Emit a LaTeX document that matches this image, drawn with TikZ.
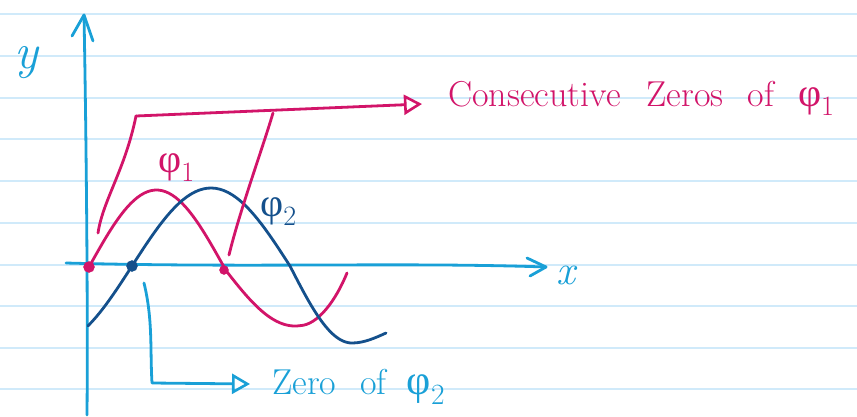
\documentclass[tikz,border=0pt]{standalone}
\usepackage{fontspec}
\newfontfamily\grk{Liberation Serif}
\usetikzlibrary{arrows.meta}
\definecolor{rule}{RGB}{208,234,250}
\definecolor{axis}{RGB}{25,160,215}
\definecolor{pinkc}{RGB}{210,20,105}
\definecolor{navy}{RGB}{20,80,140}
\newcommand{\phisub}[1]{{\grk φ}\textsubscript{#1}}
\tikzset{
  ruling/.style={rule, line width=1.6pt},
  hand/.style={line width=2.8pt, line cap=round, line join=round},
  opentip/.style={-{Triangle[open, length=18pt, width=20pt, line width=2.6pt]}},
  lbl/.style={inner sep=0pt, anchor=base west},
  dotp/.style={circle, fill=#1, draw=#1, inner sep=0pt, minimum width=9pt, minimum height=11pt}
}
\begin{document}
\begin{tikzpicture}[x=1pt, y=-1pt]
\useasboundingbox[fill=white] (0,0) rectangle (857,416);
\foreach \yy in {14,56,98,139,181,223,265,306,348,389}
  \draw[ruling] (0,\yy) -- (857,\yy);
% axes
\coordinate (ybot) at (87,415);
\coordinate (ytop) at (84,15);
\draw[axis, hand] (ybot) .. controls (88,300) and (86,120) .. (ytop);
\draw[axis, hand] (72,36) -- (ytop) -- (93,41);
\node[axis, lbl, font=\fontsize{50}{50}\selectfont\itshape] (ylab) at (14,68) {y};
\coordinate (xl) at (66,263);
\coordinate (xr) at (546,267);
\draw[axis, hand] (xl) .. controls (250,268) and (400,262) .. (xr);
\draw[axis, hand] (527,258) -- (xr) -- (530,276);
\node[axis, lbl, font=\fontsize{42}{42}\selectfont\itshape] (xlab) at (556,284) {x};
% phi1
\draw[pinkc, hand] plot[domain=89:224, samples=40] (\x, {267-77*sin((\x-89)/135*180)})
  -- plot[domain=224:300, samples=30] (\x, {268+58*sin((\x-224)/142*180)})
  .. controls (318,325) and (336,300) .. (347,273);
% phi2
\draw[navy, hand] plot[domain=88:290, samples=50] (\x, {266-78*sin((\x-132)/158*180)})
  -- plot[domain=290:352, samples=30] (\x, {266+77*sin((\x-290)/124*180)})
  .. controls (364,343) and (375,338) .. (386,333);
% zeros
\node[dotp=pinkc] (z1) at (89,267) {};
\node[dotp=navy] (z2) at (132,266) {};
\node[dotp=pinkc, minimum width=7pt, minimum height=9pt] (z3) at (224,270) {};
% labels
\node[pinkc, lbl, font=\fontsize{40}{40}\selectfont] (p1) at (158,172) {\phisub{1}};
\node[navy, lbl, font=\fontsize{40}{40}\selectfont] (p2) at (260,216) {\phisub{2}};
% consecutive zeros connectors
\coordinate (c1) at (98,233);
\coordinate (c2) at (136,116);
\coordinate (c3) at (229,255);
\coordinate (c4) at (273,113);
\node[pinkc, lbl, font=\fontsize{36}{36}\selectfont] (cz) at (448,106) {Consecutive\hspace{26pt}Zeros\hspace{24pt}of\hspace{24pt}{\fontsize{40}{40}\selectfont\phisub{1}}};
\draw[pinkc, hand] (c1) .. controls (103,200) and (125,170) .. (c2);
\draw[pinkc, hand] (c3) .. controls (240,210) and (262,150) .. (c4);
\draw[pinkc, hand, opentip] (c2) -- (422,104);
% zero of phi2 connector
\coordinate (b1) at (144,283);
\coordinate (b2) at (152,383);
\node[axis, lbl, font=\fontsize{36}{36}\selectfont] (zt) at (272,394) {Zero\hspace{24pt}of\hspace{20pt}{\fontsize{42}{42}\selectfont\phisub{2}}};
\draw[axis, hand, opentip] (b1) .. controls (153,320) and (150,350) .. (b2) -- (250,384);
\end{tikzpicture}
\end{document}
